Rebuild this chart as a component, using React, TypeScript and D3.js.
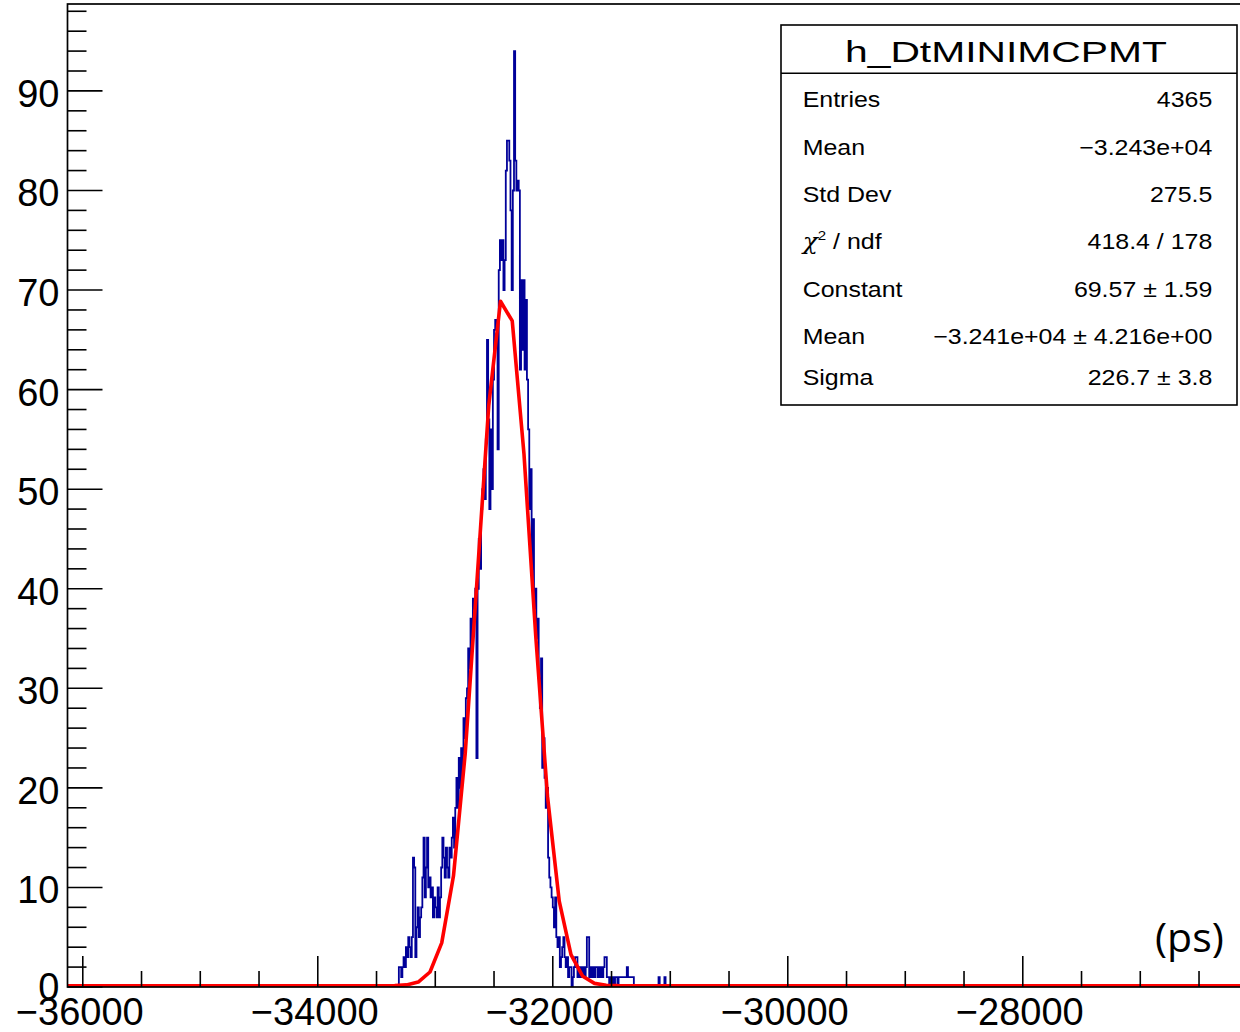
import React, { useEffect } from 'react';
import * as d3 from 'd3';

// ---------- data ----------
const binStart = -33310; // left edge of first listed bin (ps)
const binWidth = 10; // ps
const counts: number[] = [
  2, 2, 1, 2, 3, 2, 4, 3, 5, 4, 3, 5,
  13, 12, 3, 6, 8, 5, 7,
  8, 11, 15, 9, 12, 15, 10,
  11, 9, 10,
  7, 9, 8, 7,
  10, 7, 9, 12,
  15, 13,
  11, 14, 12, 11, 14, 13,
  15, 17, 14, 18,
  21, 18, 23,
  20, 24, 22, 27, 25, 29, 30,
  34, 32, 37, 34, 39, 38,
  40, 23,
  40, 45, 42,
  48,
  50, 52, 49,
  55,
  65,
  57, 48, 56, 50,
  61, 66,
  67, 66,
  54,
  72,
  75, 73, 75, 70, 73,
  82,
  85, 85, 83,
  78, 70,
  80,
  94,
  83, 80, 81, 80,
  62, 71, 64, 71, 62, 69, 61,
  56, 48, 52, 42, 47, 38, 40, 35,
  37, 31, 28, 33,
  22, 25,
  21, 18, 20,
  13, 11, 10, 9,
  8, 6, 9, 5,
  4, 5, 2,
  3, 4, 5, 3, 2,
  3, 1, 2,
  2, 0, 1, 2,
  3, 3,
  1, 2, 1, 2, 1, 2, 1,
  2, 5, 5,
  1, 2, 1, 2,
  1, 2, 2, 1, 2, 1, 2,
  1, 2, 3, 3, 1,
  1, 0, 1, 0,
  1, 0, 1, 1, 0, 1, 1, 1, 1, 1, 1, 1, 2, 1, 1, 1, 1, 1,
  0, 0, 0, 0, 0, 0, 0, 0, 0, 0, 0, 0, 0, 0, 0, 0, 0, 0, 0, 0, 0,
  1,
  0, 0, 0, 0,
  1,
];

// Gaussian fit parameters (from stats box)
const fitConstant = 69.57;
const fitMean = -32410;
const fitSigma = 226.7;
const fitGridStart = -36145;
const fitStep = 100;

const xDomain = [-36130, -26130];
const yDomain = [0, 98.73];

const xTickValues = [-36000, -34000, -32000, -30000, -28000];
const xTickLabels = ['\u221236000', '\u221234000', '\u221232000', '\u221230000', '\u221228000'];
const yTickValues = [0, 10, 20, 30, 40, 50, 60, 70, 80, 90];
const yTickLabels = ['0', '10', '20', '30', '40', '50', '60', '70', '80', '90'];

const statsTitle = 'h_DtMINIMCPMT';
const statsLabels = ['Entries', 'Mean', 'Std Dev', 'CHI', 'Constant', 'Mean', 'Sigma'];
const statsValues = [
  '4365',
  '\u22123.243e+04',
  '275.5',
  '418.4 / 178',
  '69.57 \u00b1 1.59',
  '\u22123.241e+04 \u00b1 4.216e+00',
  '226.7 \u00b1 3.8',
];
const unitLabel = '(ps)';

// ---------- layout ----------
const W = 1240;
const H = 1032;
const frameL = 67.5;
const frameT = 4;
const frameB = 987;
const pxPerPs = 0.1175;
const frameR = frameL + (xDomain[1] - xDomain[0]) * pxPerPs;

const FONT = '"Liberation Sans", Arial, Helvetica, sans-serif';

export default function App() {
  useEffect(() => {
    document.body.style.margin = '0';
  }, []);

  const x = d3.scaleLinear().domain(xDomain).range([frameL, frameR]);
  const y = d3.scaleLinear().domain(yDomain).range([frameB, frameT]);

  // histogram outline
  const histPts: [number, number][] = [[binStart, 0]];
  counts.forEach((c, i) => histPts.push([binStart + i * binWidth, c]));
  histPts.push([binStart + counts.length * binWidth, 0]);
  const histLine = d3
    .line<[number, number]>()
    .x((d) => x(d[0]))
    .y((d) => y(d[1]))
    .curve(d3.curveStepAfter);

  // fit function polyline
  const fitPts: [number, number][] = [];
  for (let v = fitGridStart; v <= xDomain[1] + fitStep; v += fitStep) {
    const z = (v - fitMean) / fitSigma;
    fitPts.push([v, fitConstant * Math.exp(-0.5 * z * z)]);
  }
  const fitLine = d3
    .line<[number, number]>()
    .x((d) => x(d[0]))
    .y((d) => y(d[1]));

  // ticks
  const xMinor = d3.range(-36000, xDomain[1], 500);
  const yMinor = d3.range(0, yDomain[1], 2);

  const boxL = 781;
  const boxR = 1237;
  const boxT = 25;
  const boxB = 405;
  const rowBase = [107, 154.5, 201.5, 248.5, 296.5, 343.5, 385];
  const sx = 1.16;

  return (
    <svg
      width={W}
      height={H}
      viewBox={`0 0 ${W} ${H}`}
      style={{ position: 'absolute', left: 0, top: 0, background: '#fff', display: 'block' }}
    >
      <defs>
        <clipPath id="frameClip">
          <rect x={frameL} y={frameT} width={frameR - frameL} height={frameB - frameT} />
        </clipPath>
      </defs>
      <rect x={0} y={0} width={W} height={H} fill="#fff" />

      <g clipPath="url(#frameClip)">
        <path d={histLine(histPts) || ''} fill="none" stroke="#000099" strokeWidth={1.8} />
        <g transform="translate(0,-1.3)">
          <path d={fitLine(fitPts) || ''} fill="none" stroke="#ff0000" strokeWidth={3.6} strokeLinejoin="round" />
        </g>
      </g>

      {/* frame */}
      <rect x={frameL} y={frameT} width={frameR - frameL} height={frameB - frameT} fill="none" stroke="#000" strokeWidth={1.7} />

      {/* x ticks */}
      {xMinor.map((v) => {
        const major = xTickValues.includes(v);
        return (
          <line key={'xt' + v} x1={x(v)} x2={x(v)} y1={frameB} y2={frameB - (major ? 31 : 16)} stroke="#000" strokeWidth={1.6} />
        );
      })}
      {/* y ticks */}
      {yMinor.map((v) => {
        const major = v % 10 === 0;
        return (
          <line key={'yt' + v} x1={frameL} x2={frameL + (major ? 35 : 19)} y1={y(v)} y2={y(v)} stroke="#000" strokeWidth={1.6} />
        );
      })}

      {/* x labels */}
      {xTickValues.map((v, i) => (
        <text key={'xl' + v} x={x(v) - 3} y={1025} textAnchor="middle" fontFamily={FONT} fontSize={38} fill="#000">
          {xTickLabels[i]}
        </text>
      ))}
      {/* y labels */}
      {yTickValues.map((v, i) => (
        <text key={'yl' + v} x={59.5} y={y(v) + (v === 0 ? 13 : 16)} textAnchor="end" fontFamily={FONT} fontSize={38} fill="#000">
          {yTickLabels[i]}
        </text>
      ))}

      {/* stats box */}
      <rect x={boxL} y={boxT} width={boxR - boxL} height={boxB - boxT} fill="#fff" stroke="#000" strokeWidth={1.6} />
      <line x1={boxL} x2={boxR} y1={73.3} y2={73.3} stroke="#000" strokeWidth={1.6} />
      <text x={1006} y={61.7} textAnchor="middle" fontFamily={FONT} fontSize={29} textLength={322} lengthAdjust="spacingAndGlyphs" fill="#000">
        {statsTitle}
      </text>
      {statsLabels.map((lab, i) => (
        <g key={'sl' + i} transform={`translate(802.7,${rowBase[i]}) scale(${sx},1)`}>
          <text x={0} y={0} fontFamily={FONT} fontSize={21.5} fill="#000">
            {lab === 'CHI' ? (
              <>
                <tspan fontFamily='"DejaVu Serif", serif' fontStyle="italic">χ</tspan>
                <tspan fontSize={13} dy={-9}>2</tspan>
                <tspan dy={9}> / ndf</tspan>
              </>
            ) : (
              lab
            )}
          </text>
        </g>
      ))}
      {statsValues.map((val, i) => (
        <g key={'sv' + i} transform={`translate(1212.3,${rowBase[i]}) scale(${sx},1)`}>
          <text x={0} y={0} textAnchor="end" fontFamily={FONT} fontSize={21.5} fill="#000">
            {val}
          </text>
        </g>
      ))}

      {/* unit annotation */}
      <text x={1155} y={952} fontFamily='"Open Sans", Lato, sans-serif' fontSize={41} fill="#000">
        {unitLabel}
      </text>
    </svg>
  );
}
